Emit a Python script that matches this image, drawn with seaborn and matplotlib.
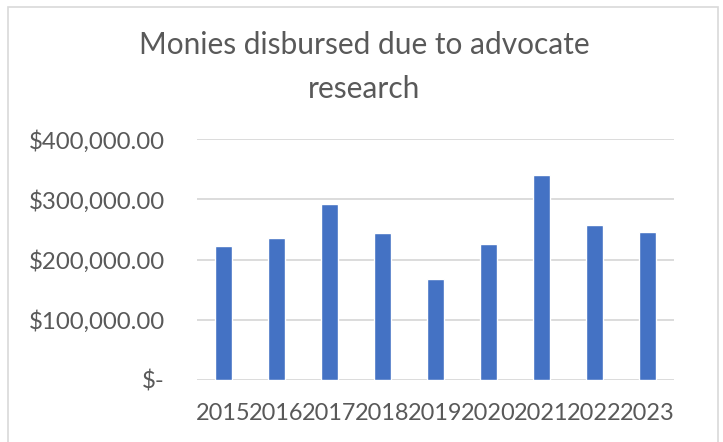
import pandas as pd
import numpy as np
import matplotlib.pyplot as plt
import matplotlib.ticker as mticker
from matplotlib.patches import Rectangle
import seaborn as sns

# Data
years = ["2015", "2016", "2017", "2018", "2019", "2020", "2021", "2022", "2023"]
amounts = [222800, 236100, 291700, 243300, 167200, 225600, 341100, 257200, 245600]
title = "Monies disbursed due to advocate\nresearch"

df = pd.DataFrame({"Year": years, "Amount": amounts})

sns.set_style("white")
plt.rcParams['font.family'] = ['Lato', 'DejaVu Sans']
text_col = "#595959"

fig = plt.figure(figsize=(7.23, 4.42), dpi=100)
ax = fig.add_axes([197 / 723, 1 - 379.7 / 442, 477 / 723, (379.7 - 139.3) / 442])

sns.barplot(data=df, x="Year", y="Amount", color="#4472C4", width=0.32,
            saturation=1, ax=ax, zorder=3)

ax.set_ylim(0, 400000)
ax.set_xlim(-0.5, len(years) - 0.5)
ax.yaxis.set_major_locator(mticker.MultipleLocator(100000))
ax.yaxis.set_major_formatter(mticker.FuncFormatter(
    lambda v, p: "$-" if v == 0 else f"${v:,.2f}"))
ax.grid(axis="y", color="#D9D9D9", linewidth=1.3, zorder=0)
for s in ax.spines.values():
    s.set_visible(False)
ax.tick_params(axis="y", length=0, colors=text_col, labelsize=17.3, pad=23)
ax.tick_params(axis="x", length=0, colors=text_col, labelsize=16.9, pad=17)
ax.set_xlabel("")
ax.set_ylabel("")

fig.text(364 / 723, 1 - 67 / 442, title, ha="center", va="center",
         fontsize=21.5, color=text_col, linespacing=1.7)

# chart area border
fig.patches.append(Rectangle((8 / 723, -0.1), 710 / 723, 1.1 - 7.5 / 442,
                             transform=fig.transFigure, fill=False,
                             edgecolor="#D9D9D9", linewidth=1.2))

fig.savefig("out.png", dpi=100)
